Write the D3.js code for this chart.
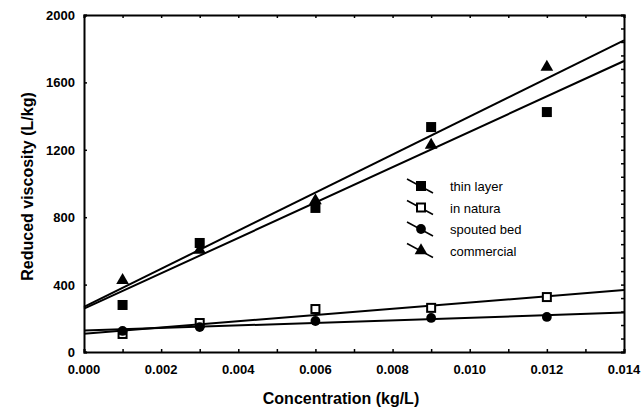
<!DOCTYPE html>
<html>
<head>
<meta charset="utf-8">
<script src="https://cdn.jsdelivr.net/npm/d3@7"></script>
<style>
  body { margin: 0; background: #fff; }
  svg { display: block; }
  text { font-family: "Liberation Sans", Arial, sans-serif; }
</style>
</head>
<body>
<div id="chart"></div>
<script>
// concentrations (kg/L)
const conc = [0.001, 0.003, 0.006, 0.009, 0.012]

// reduced viscosity (L/kg)
const thinLayer = [279, 647, 855, 1335, 1424]
const inNatura = [107, 172, 255, 262, 326]
const spoutedBed = [125, 148, 184, 202, 208]
const commercial = [425, 605, 898, 1228, 1691]

// fitted lines, values at x = 0 and x = 0.014
const fitX = [0, 0.014]
const thinLayerFit = [257, 1727]
const inNaturaFit = [108, 368]
const spoutedBedFit = [127, 234]
const commercialFit = [268, 1849]

const seriesNames = ["thin layer", "in natura", "spouted bed", "commercial"]
const xTicks = [0, 0.002, 0.004, 0.006, 0.008, 0.010, 0.012, 0.014]
const yTicks = [0, 400, 800, 1200, 1600, 2000]

const series = [
    {name: seriesNames[0], vals: thinLayer, fit: thinLayerFit, sym: "square"},
    {name: seriesNames[1], vals: inNatura, fit: inNaturaFit, sym: "open"},
    {name: seriesNames[2], vals: spoutedBed, fit: spoutedBedFit, sym: "circle"},
    {name: seriesNames[3], vals: commercial, fit: commercialFit, sym: "triangle"}
]

let margin = {top: 15, right: 20, bottom: 59, left: 84},
    width = 624 - margin.left,
    height = 352 - margin.top

let svg = d3.select("#chart")
    .append("svg")
    .attr("width", 644)
    .attr("height", 411)

let g = svg.append("g")
    .attr("transform", "translate(" + margin.left + "," + margin.top + ")")

let xScale = d3.scaleLinear().domain([0, 0.014]).range([0, width])
let yScale = d3.scaleLinear().domain([0, 2000]).range([height, 0])

// frame ticks (inward)
let minorX = d3.range(0, 15).map(i => i * 0.001)
let minorY = d3.range(0, 26).map(i => i * 80)

g.append("g")
    .attr("transform", "translate(0," + height + ")")
    .call(d3.axisBottom(xScale).tickValues(minorX).tickSize(-3).tickFormat(""))
g.append("g")
    .call(d3.axisTop(xScale).tickValues(minorX).tickSize(-3).tickFormat(""))
g.append("g")
    .attr("transform", "translate(" + width + ",0)")
    .call(d3.axisRight(yScale).tickValues(minorY).tickSize(-3).tickFormat(""))
g.append("g")
    .call(d3.axisLeft(yScale).tickValues(yTicks).tickSize(-3).tickFormat(""))

g.selectAll(".domain").attr("stroke", "#000").attr("stroke-width", 2)
g.selectAll(".tick line").attr("stroke", "#000").attr("stroke-width", 1.5)

// tick labels
g.selectAll(".xlab")
    .data(xTicks)
    .enter().append("text")
    .attr("x", d => xScale(d))
    .attr("y", height + 22)
    .attr("text-anchor", "middle")
    .attr("font-size", 13)
    .attr("font-weight", "bold")
    .text(d => d3.format(".3f")(d))

g.selectAll(".ylab")
    .data(yTicks)
    .enter().append("text")
    .attr("x", -9)
    .attr("y", d => yScale(d) + 5)
    .attr("text-anchor", "end")
    .attr("font-size", 13)
    .attr("font-weight", "bold")
    .text(d => d)

// axis titles
svg.append("text")
    .attr("x", 341)
    .attr("y", 404)
    .attr("text-anchor", "middle")
    .attr("font-size", 16)
    .attr("font-weight", "bold")
    .text("Concentration (kg/L)")

svg.append("text")
    .attr("transform", "translate(33," + (margin.top + height / 2 + 3) + ") rotate(-90)")
    .attr("text-anchor", "middle")
    .attr("font-size", 16)
    .attr("font-weight", "bold")
    .text("Reduced viscosity (L/kg)")

// fitted lines
let makeLine = d3.line()
    .x((d, i) => xScale(fitX[i]))
    .y(d => yScale(d))

series.forEach(s => {
    g.append("path")
        .attr("fill", "none")
        .attr("stroke", "#000")
        .attr("stroke-width", 2)
        .attr("d", makeLine(s.fit))
})

function drawSymbol(sel, sym) {
    if (sym == "square") {
        sel.append("rect").attr("x", -5).attr("y", -5).attr("width", 10).attr("height", 10).attr("fill", "#000")
    } else if (sym == "open") {
        sel.append("rect").attr("x", -4).attr("y", -4).attr("width", 8).attr("height", 8)
            .attr("fill", "#fff").attr("stroke", "#000").attr("stroke-width", 2)
    } else if (sym == "circle") {
        sel.append("path").attr("d", d3.symbol(d3.symbolCircle, 75)()).attr("fill", "#000")
    } else {
        sel.append("path").attr("d", d3.symbol(d3.symbolTriangle, 70)()).attr("fill", "#000")
    }
}

// data points
series.forEach(s => {
    s.vals.forEach((v, i) => {
        let m = g.append("g")
            .attr("transform", "translate(" + xScale(conc[i]) + "," + yScale(v) + ")")
        drawSymbol(m, s.sym)
    })
})

// legend
let legend = svg.append("g").attr("transform", "translate(421,186)")
series.forEach((s, i) => {
    let row = legend.append("g").attr("transform", "translate(0," + (i * 21.5) + ")")
    row.append("line")
        .attr("x1", -14).attr("y1", -7).attr("x2", 12).attr("y2", 7)
        .attr("stroke", "#000").attr("stroke-width", 1.5)
    drawSymbol(row, s.sym)
    row.append("text")
        .attr("x", 29)
        .attr("y", 5)
        .attr("font-size", 13)
        .text(s.name)
})
</script>
</body>
</html>
